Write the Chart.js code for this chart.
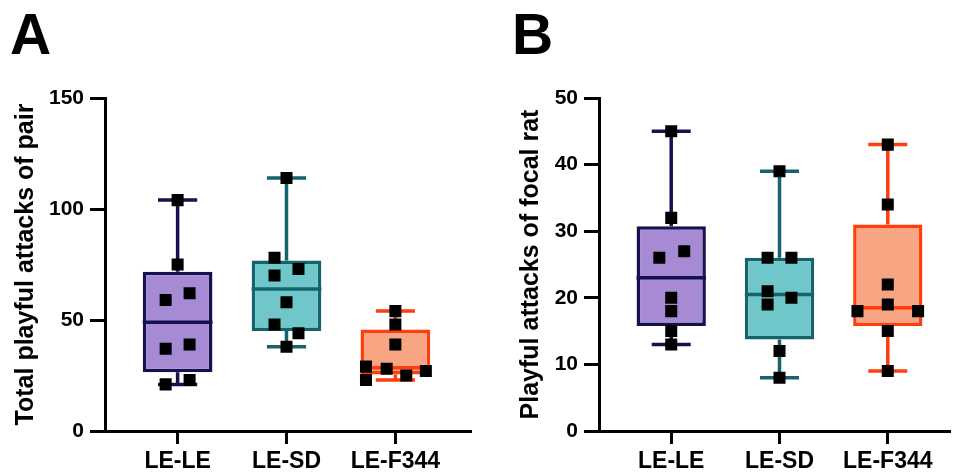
<!DOCTYPE html>
<html>
<head>
<meta charset="utf-8">
<script src="https://cdn.jsdelivr.net/npm/chart.js@4.4.1/dist/chart.umd.min.js"></script>
<style>
  body { margin: 0; background: #fff; width: 958px; height: 474px; position: relative; overflow: hidden;
         font-family: "Liberation Sans", Arial, sans-serif; }
  canvas { position: absolute; top: 0; }
  #pairChart { left: 0; }
  #focalChart { left: 479px; }
  .panel-tag { position: absolute; top: 6px; font-weight: bold; font-size: 57px; line-height: 1; z-index: 2; }
</style>
</head>
<body>
<canvas id="pairChart" width="479" height="474"></canvas>
<canvas id="focalChart" width="479" height="474"></canvas>
<div class="panel-tag" style="left:10px">A</div>
<div class="panel-tag" style="left:512px">B</div>
<script>
const categories = ['LE-LE', 'LE-SD', 'LE-F344'];

// total playful attacks of the pair
const pairLELE = [104, 75, 62, 59, 39, 37, 23, 21];
const pairLESD = [114, 78, 73, 70, 58, 48, 44, 38];
const pairLEF344 = [54, 48, 39, 29, 28, 27, 25, 23];
const pairTicks = [0, 50, 100, 150];

// playful attacks of the focal rat
const focalLELE = [45, 32, 27, 26, 20, 18, 15, 13];
const focalLESD = [39, 26, 26, 21, 20, 19, 12, 8];
const focalLEF344 = [43, 34, 22, 19, 18, 18, 15, 9];
const focalTicks = [0, 10, 20, 30, 40, 50];

// sideways spread of the dots in each group, in x axis units
const pairSpread = [
  [0, 0, 0.11, -0.11, 0.11, -0.11, 0.11, -0.11],
  [0, -0.11, 0.11, -0.11, 0, -0.11, 0.11, 0],
  [0, 0, 0, -0.27, -0.08, 0.28, 0.1, -0.27]
];
const focalSpread = [
  [0, 0, 0.12, -0.11, 0, 0, 0, 0],
  [0, -0.11, 0.11, -0.11, 0.11, -0.11, 0, 0],
  [0, 0, 0, 0, -0.28, 0.28, 0, 0]
];

const boxFill = ['#a68bd4', '#6fc7c9', '#f7a582'];
const boxLine = ['#15124f', '#14636d', '#ff3d0d'];

Chart.defaults.font.family = "'Liberation Sans', Arial, sans-serif";
Chart.defaults.color = '#000';

// quartiles the Prism way: position p*(n+1), interpolated
function quantile(sorted, p) {
  const pos = p * (sorted.length + 1) - 1;
  const lo = Math.max(0, Math.min(sorted.length - 1, Math.floor(pos)));
  const hi = Math.min(sorted.length - 1, lo + 1);
  return sorted[lo] + (sorted[hi] - sorted[lo]) * Math.max(0, pos - Math.floor(pos));
}

function boxPanel(id, groups, spread, ticks, title, opts) {
  const stats = groups.map(g => {
    const s = g.slice().sort((a, b) => a - b);
    return { min: s[0], q1: quantile(s, 0.25), med: quantile(s, 0.5), q3: quantile(s, 0.75), max: s[s.length - 1] };
  });
  const dots = [];
  groups.forEach((g, i) => g.forEach((v, j) => dots.push({ x: i + 1 + spread[i][j], y: v })));

  const capHalf = 0.18;
  const lineW = 3.5;

  const whiskers = {
    id: 'whiskers',
    beforeDatasetsDraw(chart) {
      const { ctx, scales: { x, y } } = chart;
      ctx.save();
      ctx.lineWidth = lineW;
      stats.forEach((s, i) => {
        const cx = x.getPixelForValue(i + 1);
        const l = x.getPixelForValue(i + 1 - capHalf);
        const r = x.getPixelForValue(i + 1 + capHalf);
        ctx.strokeStyle = boxLine[i];
        ctx.beginPath();
        ctx.moveTo(cx, y.getPixelForValue(s.max));
        ctx.lineTo(cx, y.getPixelForValue(s.q3));
        ctx.moveTo(cx, y.getPixelForValue(s.q1));
        ctx.lineTo(cx, y.getPixelForValue(s.min));
        ctx.moveTo(l, y.getPixelForValue(s.max));
        ctx.lineTo(r, y.getPixelForValue(s.max));
        ctx.moveTo(l, y.getPixelForValue(s.min));
        ctx.lineTo(r, y.getPixelForValue(s.min));
        ctx.stroke();
      });
      ctx.restore();
    },
    afterDatasetDraw(chart, args) {
      if (args.index !== 0) return;
      const { ctx, scales: { y } } = chart;
      const bars = chart.getDatasetMeta(0).data;
      ctx.save();
      ctx.lineWidth = lineW;
      stats.forEach((s, i) => {
        const b = bars[i];
        const my = y.getPixelForValue(s.med);
        ctx.strokeStyle = boxLine[i];
        ctx.beginPath();
        ctx.moveTo(b.x - b.width / 2, my);
        ctx.lineTo(b.x + b.width / 2, my);
        ctx.stroke();
      });
      ctx.restore();
    }
  };

  const axisBorder = { display: true, color: '#000', width: 3 };
  const axisGrid = (len) => ({ drawOnChartArea: false, offset: false, color: '#000', tickColor: '#000',
                               lineWidth: 3, tickWidth: 3, tickLength: len });

  return new Chart(document.getElementById(id), {
    type: 'bar',
    data: {
      datasets: [{
        type: 'bar',
        data: stats.map((s, i) => ({ x: i + 1, y: [s.q1, s.q3] })),
        backgroundColor: boxFill,
        borderColor: boxLine,
        borderWidth: lineW,
        borderSkipped: false,
        barPercentage: 0.64,
        categoryPercentage: 1,
        order: 1
      }, {
        type: 'scatter',
        data: dots,
        pointStyle: 'rect',
        pointRadius: 8.5,
        backgroundColor: '#000',
        borderWidth: 0,
        order: 0
      }]
    },
    options: {
      responsive: false,
      animation: false,
      layout: { padding: { top: 98, right: opts.right, left: 0, bottom: 0 } },
      plugins: { legend: { display: false }, tooltip: { enabled: false } },
      scales: {
        x: {
          type: 'linear',
          offset: false,
          min: 0.333,
          max: opts.xMax,
          afterBuildTicks: s => { s.ticks = categories.map((c, i) => ({ value: i + 1 })); },
          afterFit: s => { s.height = 43; },
          ticks: {
            callback: (v, i) => categories[i],
            font: { size: 23, weight: 'bold' },
            padding: 4,
            autoSkip: false,
            maxRotation: 0
          },
          grid: axisGrid(13),
          border: axisBorder
        },
        y: {
          min: 0,
          max: ticks[ticks.length - 1],
          afterBuildTicks: s => { s.ticks = ticks.map(v => ({ value: v })); },
          afterFit: s => { s.width = opts.yWidth; },
          ticks: { font: { size: 21, weight: 'bold' }, padding: 6 },
          grid: axisGrid(15),
          border: axisBorder,
          title: {
            display: true,
            text: title,
            font: { size: 25, weight: 'bold' },
            padding: { top: opts.titlePad, bottom: 0 }
          }
        }
      }
    },
    plugins: [whiskers]
  });
}

boxPanel('pairChart', [pairLELE, pairLESD, pairLEF344], pairSpread, pairTicks,
  'Total playful attacks of pair', { xMax: 3.69, right: 1, yWidth: 105, titlePad: 11 });
boxPanel('focalChart', [focalLELE, focalLESD, focalLEF344], focalSpread, focalTicks,
  'Playful attacks of focal rat', { xMax: 3.57, right: 0, yWidth: 120, titlePad: 37 });
</script>
</body>
</html>
